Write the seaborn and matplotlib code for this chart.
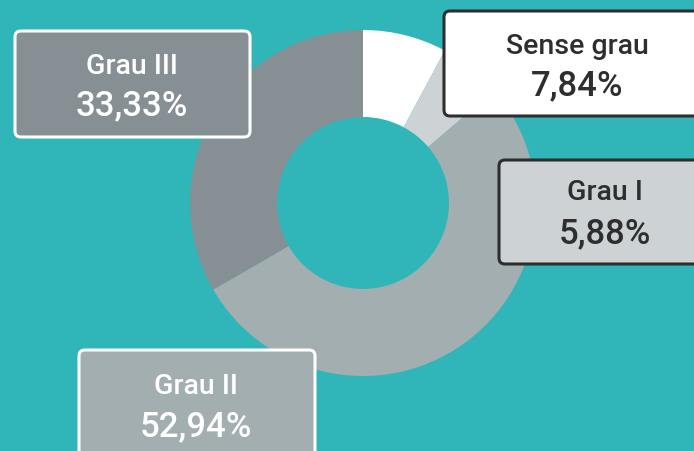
"""
Donut chart: distribució per grau.
"""

import matplotlib.pyplot as plt
import seaborn as sns
from matplotlib.patches import FancyBboxPatch

# data
categories = ["Sense grau", "Grau I", "Grau II", "Grau III"]
values = [7.84, 5.88, 52.94, 33.33]
labels = ["7,84%", "5,88%", "52,94%", "33,33%"]

slice_colors = ["#ffffff", "#cdd3d4", "#a3aeb1", "#858f94"]
bg = "#30b6b9"
dark = "#2e2e2e"

W, H = 694, 451

sns.set_style("white")
plt.rcParams["font.family"] = ["Roboto", "DejaVu Sans"]

fig = plt.figure(figsize=(W / 100, H / 100), dpi=100, facecolor=bg)
ax = fig.add_axes([0, 0, 1, 1])
ax.set_facecolor(bg)


def fy(y):
    # pixel from top -> data y
    return H - y


ax.pie(
    values,
    colors=slice_colors,
    startangle=90,
    counterclock=False,
    radius=173,
    center=(363, fy(203)),
    wedgeprops=dict(width=87, linewidth=0),
    frame=True,
)
ax.set_xlim(0, W)
ax.set_ylim(0, H)
ax.set_aspect("equal")
ax.axis("off")

# label boxes: (left, top, right, bottom), fill, edge, text colour, text centre x, name y, pct y
boxes = {
    "Grau III": ((15, 31, 250, 137), "#858f94", "white", "white", 132, 66, 106),
    "Sense grau": ((444, 11, 712, 116), "white", dark, dark, 577, 46, 86),
    "Grau I": ((499, 160, 712, 264), "#cdd3d4", dark, dark, 605, 192, 234),
    "Grau II": ((79, 350, 315, 470), "#a3aeb1", "white", "white", 196, 386, 427),
}

for cat, lab in zip(categories, labels):
    (x0, y0, x1, y1), fc, ec, tc, cx, ny, py = boxes[cat]
    patch = FancyBboxPatch(
        (x0, fy(y1)),
        x1 - x0,
        y1 - y0,
        boxstyle="round,pad=0,rounding_size=6",
        facecolor=fc,
        edgecolor=ec,
        linewidth=2.2,
        zorder=5,
    )
    ax.add_patch(patch)
    ax.text(cx, fy(ny), cat, ha="center", va="center",
            fontsize=20.5, color=tc, fontweight="medium", zorder=6)
    ax.text(cx, fy(py), lab, ha="center", va="center",
            fontsize=25, color=tc, fontweight="medium", zorder=6)

fig.savefig("out.png", dpi=100, facecolor=bg)
